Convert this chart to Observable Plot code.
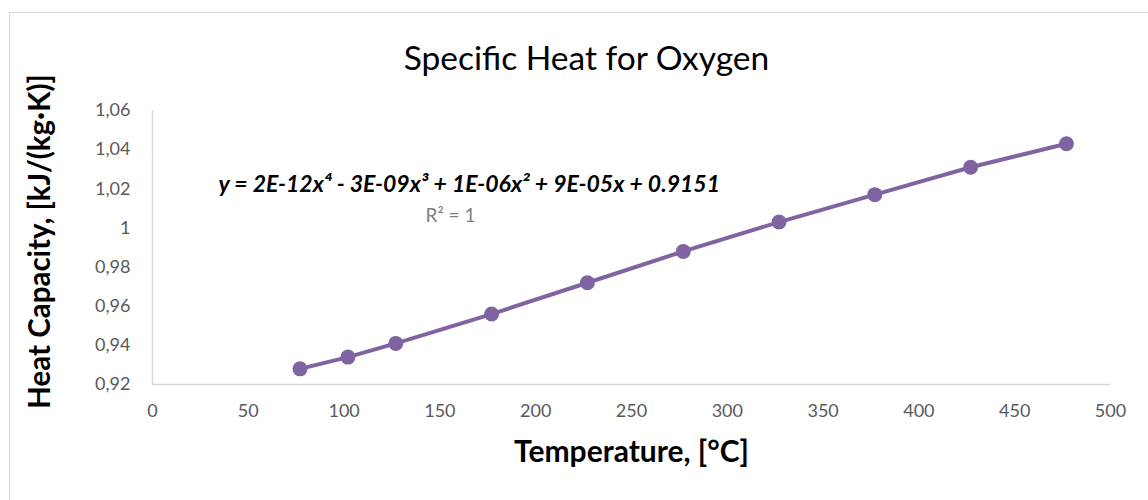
<!DOCTYPE html>
<html>
<head>
<meta charset="utf-8">
<script src="https://cdn.jsdelivr.net/npm/d3@7"></script>
<script src="https://cdn.jsdelivr.net/npm/@observablehq/plot@0.6"></script>
<style>
  html, body { margin: 0; padding: 0; background: #fff; }
  #wrap { position: relative; width: 1148px; height: 500px; overflow: hidden; }
  #border { position: absolute; left: 9px; top: 12px; width: 1160px; height: 520px; border: 1px solid #d9d9d9; box-sizing: border-box; }
  #chart { position: absolute; left: 0; top: 0; }
</style>
</head>
<body>
<div id="wrap"><div id="border"></div><div id="chart"></div></div>
<script>
const temperature = [77, 102, 127, 177, 227, 277, 327, 377, 427, 477];
const heatCapacity = [0.928, 0.934, 0.941, 0.956, 0.972, 0.988, 1.003, 1.017, 1.031, 1.043];
const xTicks = [0, 50, 100, 150, 200, 250, 300, 350, 400, 450, 500];
const yTicks = [0.92, 0.94, 0.96, 0.98, 1.00, 1.02, 1.04, 1.06];
const yTickLabels = ["0,92", "0,94", "0,96", "0,98", "1", "1,02", "1,04", "1,06"];
const title = "Specific Heat for Oxygen";
const xLabel = "Temperature, [°C]";
const yLabel = "Heat Capacity, [kJ/(kg·K)]";
const equation = "y = 2E-12x⁴ - 3E-09x³ + 1E-06x² + 9E-05x + 0.9151";
const rSquared = "R² = 1";

const data = temperature.map((t, i) => ({t, c: heatCapacity[i]}));
const purple = "#8064a2";
const yFmt = d => yTickLabels[yTicks.findIndex(v => Math.abs(v - d) < 1e-9)];

const chart = Plot.plot({
  width: 1148,
  height: 500,
  marginLeft: 152,
  marginRight: 38,
  marginTop: 110,
  marginBottom: 116,
  style: {fontFamily: "Lato, 'Open Sans', sans-serif", background: "transparent"},
  x: {domain: [0, 500], ticks: xTicks, label: null},
  y: {domain: [0.92, 1.06], ticks: yTicks, label: null},
  marks: [
    Plot.axisX({ticks: xTicks, tickSize: 0, tickPadding: 20, fontSize: 18, fill: "#595959", label: null}),
    Plot.axisY({ticks: yTicks, tickSize: 0, tickPadding: 22, fontSize: 18, fill: "#595959", label: null, tickFormat: yFmt}),
    Plot.ruleX([0], {stroke: "#d9d9d9", strokeWidth: 1.5}),
    Plot.ruleY([0.92], {stroke: "#d9d9d9", strokeWidth: 1.5}),
    Plot.line(data, {x: "t", y: "c", stroke: purple, strokeWidth: 4}),
    Plot.dot(data, {x: "t", y: "c", r: 7.5, fill: purple, stroke: "none"}),
    Plot.text([title], {frameAnchor: "top", dx: -45, dy: -64, fontSize: 33.5, fill: "#000", text: d => d}),
    Plot.text([equation], {frameAnchor: "top-left", dx: 66, dy: 65, textAnchor: "start",
      fontSize: 23, fontWeight: "bold", fontStyle: "italic", fill: "#000", text: d => d}),
    Plot.text([rSquared], {frameAnchor: "top-left", dx: 298, dy: 98, textAnchor: "middle",
      fontSize: 19, fill: "#7f7f7f", text: d => d}),
    Plot.text([xLabel], {frameAnchor: "bottom", dy: 77, fontSize: 30, fontWeight: "bold", fill: "#000", text: d => d}),
    Plot.text([yLabel], {frameAnchor: "left", dx: -112, dy: -6, rotate: -90, textAnchor: "middle", fontSize: 29.5, fontWeight: "bold", fill: "#000", text: d => d})
  ]
});
document.getElementById("chart").appendChild(chart);
</script>
</body>
</html>
